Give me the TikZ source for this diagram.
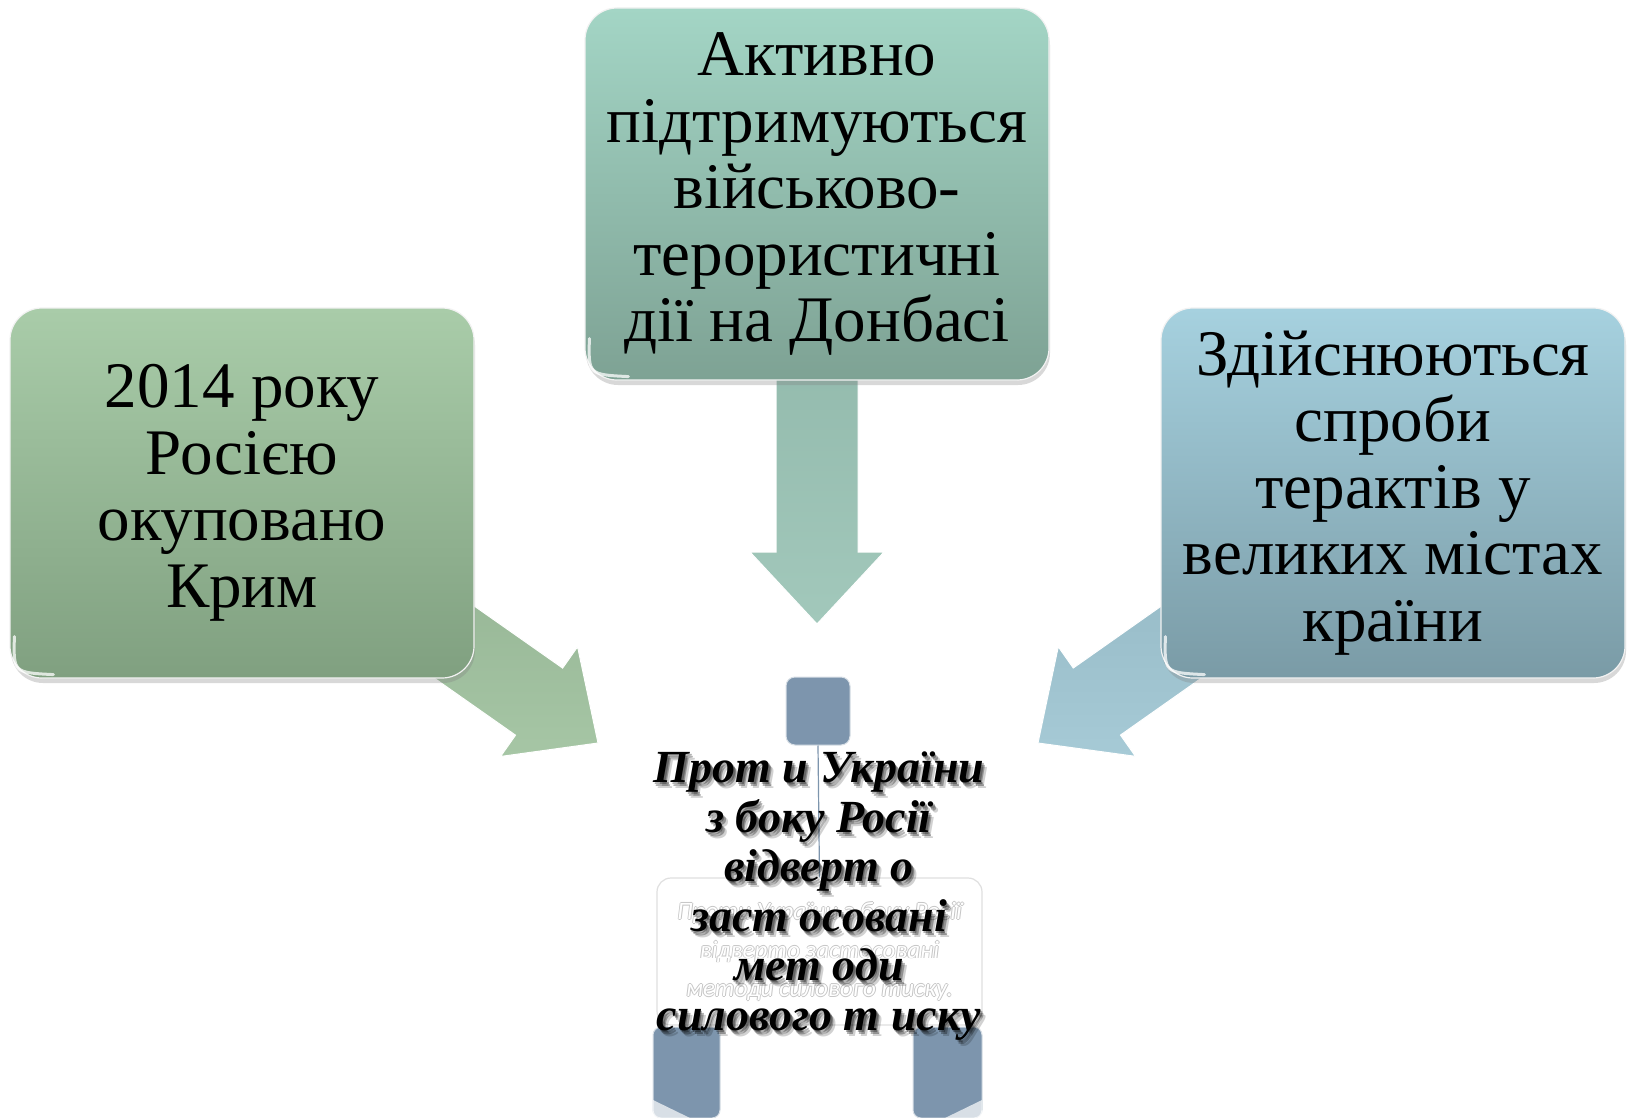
\documentclass[tikz,border=0pt]{standalone}
\usepackage{fontspec}
\setmainfont{Liberation Serif}
\newfontfamily\fadefont{Carlito}
\usetikzlibrary{calc,shadows}
\pgfdeclarelayer{background}
\pgfsetlayers{background,main}
\definecolor{lgT}{HTML}{A9CCA9}
\definecolor{lgB}{HTML}{80A080}
\definecolor{tlT}{HTML}{A3D5C5}
\definecolor{tlB}{HTML}{7EA294}
\definecolor{blT}{HTML}{A6D1DF}
\definecolor{blB}{HTML}{7A9BA6}
\definecolor{slate}{HTML}{7D95AD}
\definecolor{laT}{HTML}{8DAC8C}
\definecolor{laB}{HTML}{A6C6A5}
\definecolor{taT}{HTML}{8BB3A5}
\definecolor{taB}{HTML}{A2C8BB}
\definecolor{raT}{HTML}{8DB1BD}
\definecolor{raB}{HTML}{A6CAD6}
\newcommand\fatarrow[4]{%
  \coordinate (fa-h) at ($(#2)!72pt!(#1)$);
  \path[arrowstyle, top color=#3, bottom color=#4]
    ($(#1)!41pt!90:(#2)$) -- ($(fa-h)!41pt!-90:(#1)$) -- ($(fa-h)!67pt!-90:(#1)$)
    -- (#2) -- ($(fa-h)!67pt!90:(#1)$) -- ($(fa-h)!41pt!90:(#1)$)
    -- ($(#1)!41pt!-90:(#2)$) -- cycle;
}
\newcommand\cornergloss[1]{%
  \draw[gloss] ($(#1.south west)+(5,-42)$) .. controls ($(#1.south west)+(4,-6)$) .. ($(#1.south west)+(44,-4)$);
}
\tikzset{
  mainbox/.style={rounded corners=32pt, minimum width=464pt, minimum height=370pt,
    inner sep=0pt, align=center, draw=white!75!black!20, line width=1.2pt,
    drop shadow={shadow xshift=1pt, shadow yshift=-5pt, opacity=0.3},
    font=\fontsize{65}{66.5}\selectfont},
  gloss/.style={white, line width=3pt, opacity=0.75, line cap=round},
  arrowstyle/.style={draw=white, line width=1pt, line join=miter},
  slatebox/.style={fill=slate, draw=white!70!slate, line width=1pt},
  centertext/.style={align=center, inner sep=0pt,
    font=\bfseries\itshape\fontsize{46}{49.5}\selectfont},
  fadetext/.style={align=center, inner sep=0pt,
    font=\fadefont\itshape\fontsize{25}{38.5}\selectfont},
}
\begin{document}
\begin{tikzpicture}[x=1pt,y=-1pt]
\useasboundingbox (0,0) rectangle (1631,1118);

% boxes
\node[mainbox, top color=lgT, bottom color=lgB] (lbox) at (242,493)
  {2014 року\\Росією\\окуповано\\Крим};
\node[mainbox, top color=tlT, bottom color=tlB, minimum height=372pt] (tbox) at (817,194)
  {Активно\\підтримуються\\військово-\\терористичні\\дії на Донбасі};
\node[mainbox, top color=blT, bottom color=blB] (rbox) at (1393,493)
  {Здійснюються\\спроби\\терактів у\\великих містах\\країни};
\cornergloss{lbox}
\cornergloss{tbox}
\cornergloss{rbox}

\coordinate (ltip) at (598,743);
\coordinate (ttip) at (817,624);
\coordinate (rtip) at (1038,743);

\begin{pgfonlayer}{background}
  \fill[white] (0,0) rectangle (1631,1118);
  \fatarrow{lbox.center}{ltip}{laT}{laB}
  \fatarrow{tbox.center}{ttip}{taT}{taB}
  \fatarrow{rbox.center}{rtip}{raT}{raB}
\end{pgfonlayer}

% centre block
\node[slatebox, rounded corners=9pt, minimum width=64pt, minimum height=68pt, inner sep=0pt]
  (cbox) at (818,711) {};
\path[slatebox, rounded corners=8pt] (653,1118) -- (653,1027) -- (720,1027) -- (720,1118) -- cycle;
\path[fill=white, opacity=0.7] (653,1100) -- (690,1118) -- (653,1118) -- cycle;
\path[slatebox, rounded corners=8pt] (913,1118) -- (913,1027) -- (982,1027) -- (982,1118) -- cycle;
\path[fill=white, opacity=0.7] (982,1100) -- (945,1118) -- (982,1118) -- cycle;
\node[fill=white, draw=gray!25, line width=1.2pt, rounded corners=14pt,
  minimum width=325pt, minimum height=147pt, inner sep=0pt] (fade) at (819.5,951.5) {};
\draw[slate, line width=1.2pt] (cbox.south) -- (fade.north);

\foreach \dx/\dy in {0.9/0,-0.9/0,0/0.9,0/-0.9}{
  \node[fadetext, text=gray!45] at ($(fade.center)+(\dx,\dy)$)
    {Проти України з боку Росії\\відверто застосовані\\методи силового тиску.};
}
\node[fadetext, text=white] (fadetxt) at (fade.center)
  {Проти України з боку Росії\\відверто застосовані\\методи силового тиску.};

% main centre text with glow
\foreach \dx/\dy/\op in {5/6/0.18,3/4/0.3,1.5/2/0.3}{
  \node[centertext, text=black, opacity=\op] at (819+\dx,896+\dy)
    {Прот и України\\з боку Росії\\відверт о\\заст осовані\\мет оди\\силового т иску};
}
\node[centertext] (ctext) at (819,896)
  {Прот и України\\з боку Росії\\відверт о\\заст осовані\\мет оди\\силового т иску};
\end{tikzpicture}
\end{document}
